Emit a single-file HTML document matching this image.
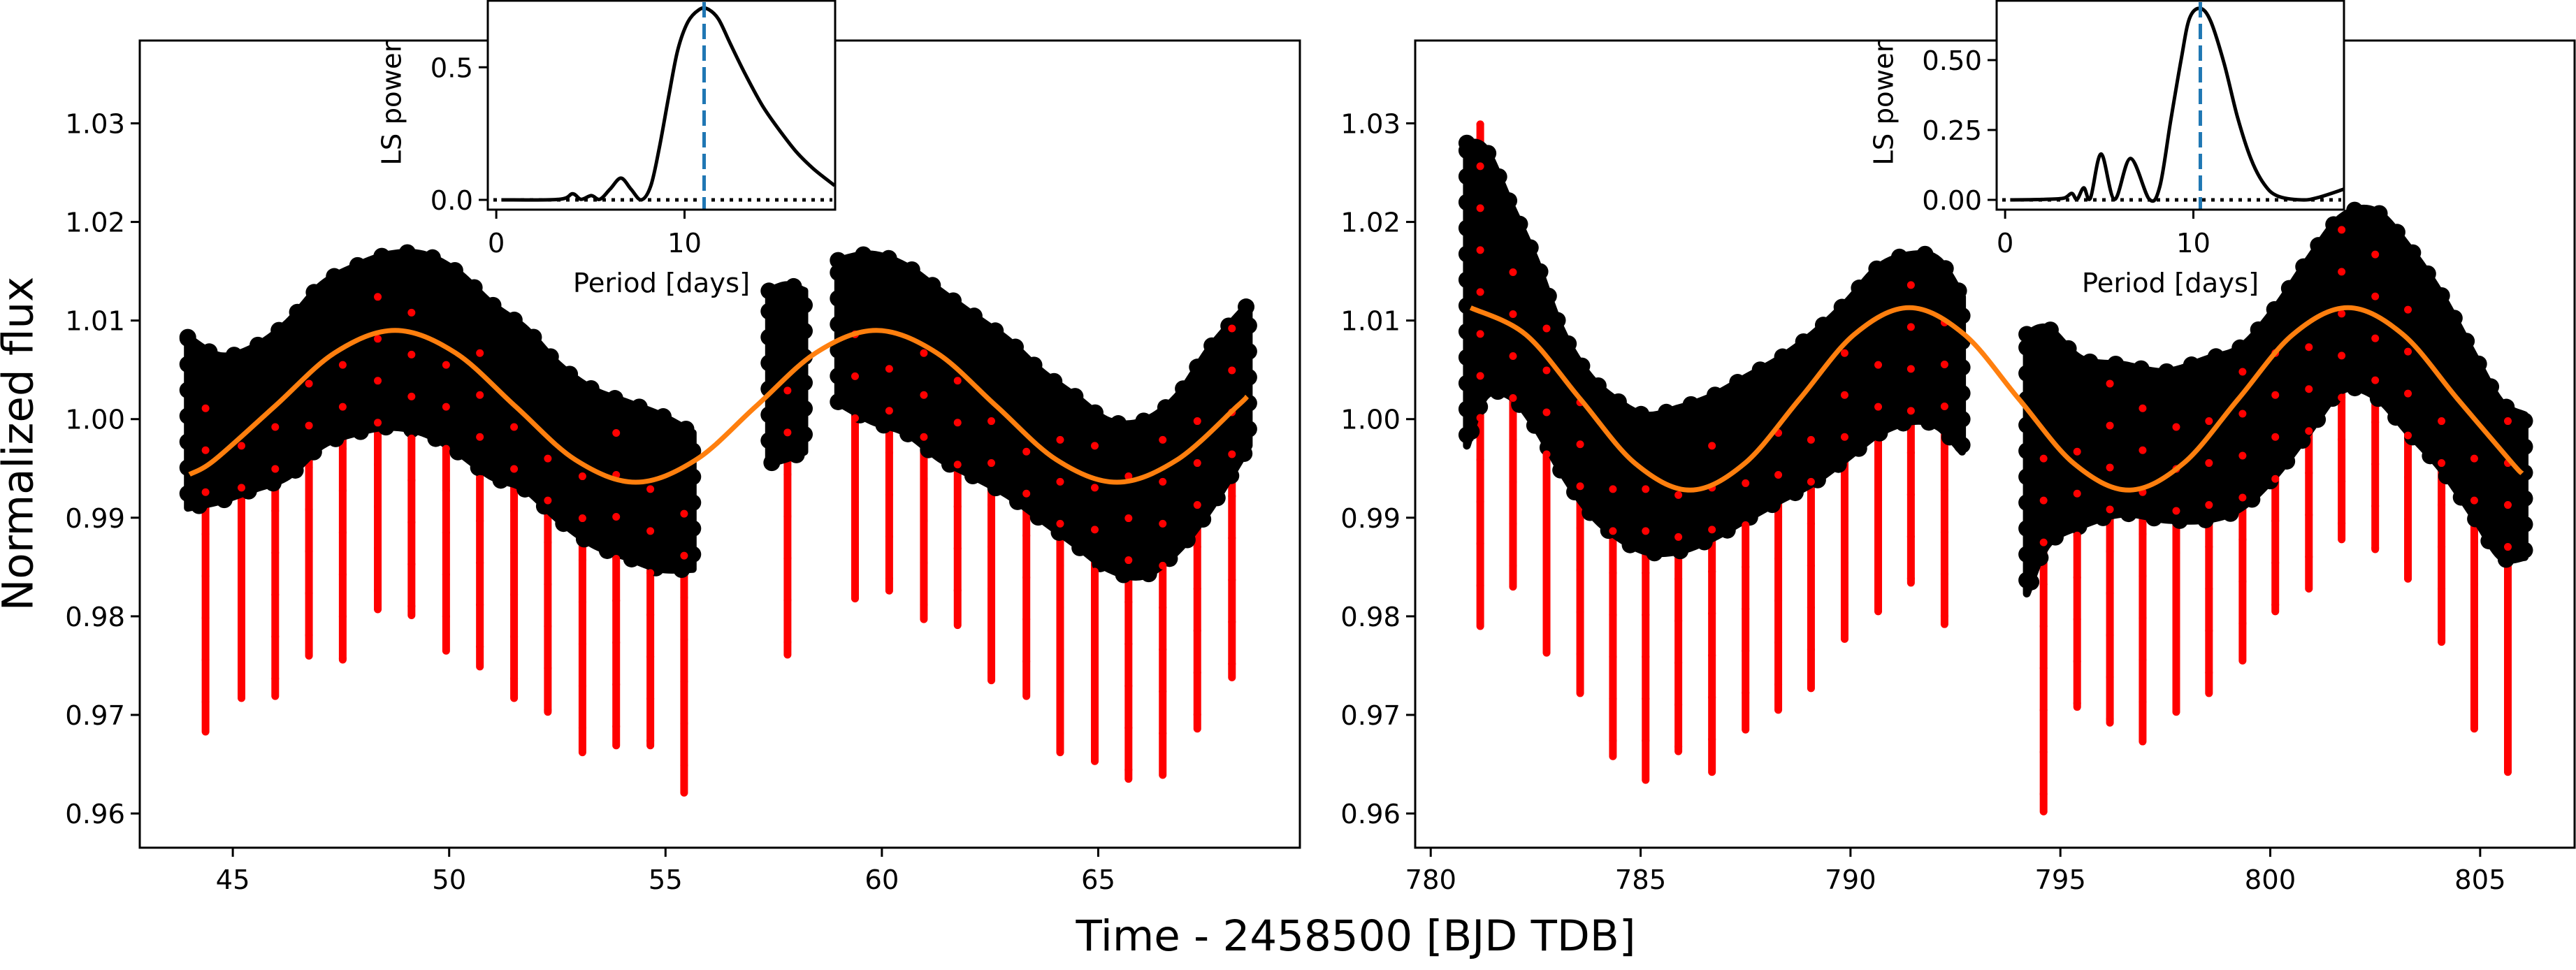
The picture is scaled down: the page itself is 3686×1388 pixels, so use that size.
<!DOCTYPE html>
<html><head><meta charset="utf-8">
<style>
html,body{margin:0;padding:0;background:#fff;}
svg{display:block;}
text{font-family:"DejaVu Sans","Liberation Sans",sans-serif;fill:#000;}
</style></head>
<body>
<svg id="fig" xmlns="http://www.w3.org/2000/svg" width="3686" height="1388" viewBox="0 0 3686 1388">
<rect x="0" y="0" width="3686" height="1388" fill="#fff"/>
<g id="left"></g>
<g id="right"></g>
<text x="26" y="635" font-size="61" text-anchor="middle" dominant-baseline="central" transform="rotate(-90 26 635)">Normalized flux</text>
<text x="1940" y="1360" font-size="61" text-anchor="middle">Time - 2458500 [BJD TDB]</text>
</svg>
<script>
// ---------- DATA ----------
const yTicks = [0.96,0.97,0.98,0.99,1.00,1.01,1.02,1.03];
const xTicksL = [45,50,55,60,65];
const xTicksR = [780,785,790,795,800,805];

// black flux cloud envelopes (time, upper, lower)
const cloudL1_t  = [43.96,44.71,45.49,46.27,47.05,47.84,48.62,49.40,50.19,50.97,51.75,52.53,53.32,54.10,54.88,55.63];
const cloudL1_hi = [1.0083,1.0064,1.0073,1.0098,1.0136,1.0155,1.0167,1.0167,1.0149,1.0117,1.0092,1.0055,1.0030,1.0017,1.0004,0.9986];
const cloudL1_lo = [0.9910,0.9917,0.9929,0.9942,0.9973,0.9986,0.9992,0.9986,0.9967,0.9942,0.9929,0.9898,0.9873,0.9860,0.9848,0.9848];
const cloudL2_t  = [57.39,57.80,58.21];
const cloudL2_hi = [1.0130,1.0136,1.0130];
const cloudL2_lo = [0.9955,0.9960,0.9967];
const cloudL3_t  = [58.99,59.77,60.56,61.34,62.12,62.91,63.69,64.47,65.25,66.04,66.82,67.60,68.48];
const cloudL3_hi = [1.0161,1.0167,1.0155,1.0130,1.0105,1.0080,1.0048,1.0023,0.9998,0.9998,1.0023,1.0073,1.0117];
const cloudL3_lo = [1.0017,0.9998,0.9986,0.9960,0.9942,0.9923,0.9898,0.9873,0.9848,0.9841,0.9866,0.9910,0.9973];
const cloudR1_t  = [780.86,781.30,781.90,782.50,783.10,783.70,784.30,785.10,785.90,786.70,787.50,788.30,789.10,789.90,790.70,791.50,792.10,792.66];
const cloudR1_hi = [1.0280,1.0274,1.0218,1.0161,1.0092,1.0048,1.0023,1.0004,1.0011,1.0023,1.0042,1.0061,1.0086,1.0118,1.0155,1.0167,1.0161,1.0124];
const cloudR1_lo = [0.9973,1.0023,1.0023,0.9992,0.9948,0.9910,0.9885,0.9866,0.9866,0.9879,0.9898,0.9917,0.9935,0.9960,0.9986,0.9998,0.9992,0.9967];
const cloudR2_t  = [794.20,794.70,795.50,796.50,797.50,798.50,799.30,800.10,800.90,801.70,802.50,803.30,804.10,804.90,805.50,806.06];
const cloudR2_hi = [1.0086,1.0092,1.0061,1.0055,1.0048,1.0061,1.0073,1.0111,1.0161,1.0205,1.0211,1.0174,1.0124,1.0061,1.0017,1.0004];
const cloudR2_lo = [0.9823,0.9873,0.9892,0.9904,0.9898,0.9898,0.9910,0.9942,0.9986,1.0029,1.0023,0.9986,0.9948,0.9898,0.9860,0.9860];

// red in-transit points: transit time, top and bottom flux
const transitL_t   = [44.37,45.20,45.98,46.76,47.54,48.35,49.13,49.93,50.71,51.50,52.28,53.08,53.86,54.65,55.43,57.82,59.38,60.17,60.97,61.75,62.53,63.34,64.12,64.92,65.70,66.49,67.29,68.09];
const transitL_top = [1.0011,0.9973,0.9992,1.0036,1.0055,1.0124,1.0108,1.0055,1.0067,0.9992,0.9960,0.9942,0.9986,0.9929,0.9904,1.0029,1.0086,1.0051,1.0067,1.0039,0.9998,0.9967,0.9979,0.9973,0.9942,0.9979,0.9998,1.0092];
const transitL_bot = [0.9683,0.9717,0.9719,0.9760,0.9756,0.9807,0.9801,0.9765,0.9749,0.9717,0.9703,0.9662,0.9669,0.9669,0.9621,0.9761,0.9818,0.9826,0.9797,0.9791,0.9735,0.9719,0.9662,0.9653,0.9635,0.9639,0.9686,0.9738];
const transitR_t   = [781.18,781.96,782.76,783.56,784.34,785.12,785.90,786.70,787.50,788.28,789.06,789.86,790.66,791.44,792.24,794.60,795.40,796.18,796.96,797.76,798.54,799.34,800.12,800.92,801.70,802.50,803.28,804.08,804.86,805.66];
const transitR_top = [1.0299,1.0149,1.0092,1.0017,0.9929,0.9929,0.9923,0.9973,0.9935,0.9986,0.9979,1.0067,1.0055,1.0136,1.0098,0.9960,0.9967,1.0036,1.0011,0.9992,0.9998,1.0048,1.0067,1.0073,1.0192,1.0167,1.0111,0.9998,0.9960,0.9998];
const transitR_bot = [0.9790,0.9830,0.9763,0.9722,0.9658,0.9634,0.9663,0.9642,0.9685,0.9705,0.9727,0.9777,0.9805,0.9834,0.9792,0.9602,0.9708,0.9692,0.9673,0.9703,0.9722,0.9755,0.9805,0.9828,0.9878,0.9868,0.9838,0.9774,0.9686,0.9642];

// orange rotation model curve nodes
const modelL_t = [44.00,44.58,45.97,47.36,48.75,50.14,51.53,52.92,54.31,55.70,57.09,58.48,59.87,61.26,62.65,64.04,65.43,66.82,68.21,68.44];
const modelL_v = [0.99439,0.99586,1.0013,1.00674,1.009,1.00674,1.0013,0.99586,0.9936,0.99586,1.0013,1.00674,1.009,1.00674,1.0013,0.99586,0.9936,0.99586,1.0013,1.00229];
const modelR_t = [780.95,782.26,783.56,784.87,786.18,787.48,788.79,790.09,791.40,792.71,794.01,795.32,796.63,797.93,799.24,800.54,801.85,803.16,804.46,805.77,806.00];
const modelR_v = [1.0113,1.00859,1.00205,0.99551,0.9928,0.99551,1.00205,1.00859,1.0113,1.00859,1.00205,0.99551,0.9928,0.99551,1.00205,1.00859,1.0113,1.00859,1.00205,0.99551,0.9945];

// periodograms
const lsL_period = [0.27,3.33,4.05,4.50,5.05,5.50,6.04,6.62,7.16,7.70,8.20,8.65,9.19,9.64,10.18,10.77,11.22,11.80,12.43,13.24,14.14,15.05,15.95,16.85,17.97];
const lsL_power  = [0,0.002,0.023,0.002,0.016,0.002,0.04,0.082,0.04,0.0,0.051,0.192,0.402,0.565,0.671,0.717,0.720,0.682,0.589,0.472,0.355,0.262,0.180,0.117,0.054];
const lsL_best = 11.04;
const lsR_period = [0.27,2.12,3.11,3.54,3.82,4.18,4.53,5.10,5.81,6.66,7.66,8.22,8.79,9.36,9.79,10.36,10.92,11.63,12.34,13.05,13.76,14.47,15.75,16.60,17.98];
const lsR_power  = [0,0.002,0.006,0.023,0.002,0.043,0.006,0.164,0.002,0.148,0.002,0.048,0.281,0.506,0.648,0.685,0.639,0.489,0.297,0.148,0.056,0.014,0,0.008,0.038];
const lsR_best = 10.37;
const insetTicksX = [0,10];
const insetTicksYL = ["0.0","0.5"];
const insetTicksYR = ["0.00","0.25","0.50"];

// ---------- DRAWING ----------
const NS = "http://www.w3.org/2000/svg";
function mk(tag, attrs, parent){ const e=document.createElementNS(NS,tag); for(const k in attrs) e.setAttribute(k,attrs[k]); parent.appendChild(e); return e; }
function lin(d0,d1,r0,r1){ return v => r0+(v-d0)*(r1-r0)/(d1-d0); }
function smooth(xs, ys){
  let d = "M"+xs[0].toFixed(1)+","+ys[0].toFixed(1);
  for(let i=0;i<xs.length-1;i++){
    const x0=xs[Math.max(i-1,0)], y0=ys[Math.max(i-1,0)];
    const x1=xs[i], y1=ys[i], x2=xs[i+1], y2=ys[i+1];
    const x3=xs[Math.min(i+2,xs.length-1)], y3=ys[Math.min(i+2,xs.length-1)];
    const c1x=x1+(x2-x0)/6, c1y=y1+(y2-y0)/6, c2x=x2-(x3-x1)/6, c2y=y2-(y3-y1)/6;
    d += " C"+c1x.toFixed(1)+","+c1y.toFixed(1)+" "+c2x.toFixed(1)+","+c2y.toFixed(1)+" "+x2.toFixed(1)+","+y2.toFixed(1);
  }
  return d;
}

function drawPanel(g, cfg){
  const X = lin(cfg.xd[0],cfg.xd[1],cfg.x0,cfg.x1);
  const Y = lin(0.95653,1.0384,1213,58);
  const reds = mk("g",{},g);
  
  
  cfg.tt.forEach((t,i)=>{
    const l = mk("line",{x1:X(t),x2:X(t),y1:Y(cfg.ttop[i]),y2:Y(cfg.tbot[i]),stroke:"#ff0000","stroke-width":11,"stroke-linecap":"round"},reds);
    
    
  });
  cfg.clouds.forEach(c=>{
    const xs=c[0].map(X), hi=c[1].map(Y), lo=c[2].map(Y);
    let d = smooth(xs,hi);
    const rx=xs.slice().reverse(), ry=lo.slice().reverse();
    d += " L"+rx[0].toFixed(1)+","+ry[0].toFixed(1)+smooth(rx,ry).replace(/^M[^C]*/," ")+" Z";
    const p = mk("path",{d:d,fill:"#000",stroke:"#000","stroke-width":11,"stroke-linejoin":"round"},g);
    
    
    const fz = mk("path",{d:d,fill:"none",stroke:"#000","stroke-width":24,"stroke-linecap":"round","stroke-dasharray":"0 37"},g);
    
    
  });
  cfg.tt.forEach((t,i)=>{
    const l = mk("line",{x1:X(t),x2:X(t),y1:Y(cfg.ttop[i]),y2:Y(cfg.tbot[i]),stroke:"#ff0000","stroke-width":11,"stroke-linecap":"round","stroke-dasharray":"0 60"},g);
    
    
  });
  const m = mk("path",{d:smooth(cfg.mt.map(X),cfg.mv.map(Y)),fill:"none",stroke:"#ff7f0e","stroke-width":7},g);
  
  
  const f = mk("rect",{x:cfg.x0,y:58,width:cfg.x1-cfg.x0,height:1213-58,fill:"none",stroke:"#000","stroke-width":3},g);
  
  
  yTicks.forEach(v=>{
    const y=Y(v);
    const t=mk("line",{x1:cfg.x0-13,x2:cfg.x0,y1:y,y2:y,stroke:"#000","stroke-width":3},g);
    
    
    const tx=mk("text",{x:cfg.x0-21,y:y+14,"font-size":38.5,"text-anchor":"end"},g);
    tx.textContent=v.toFixed(2);
    
    
  });
  cfg.xt.forEach(v=>{
    const x=X(v);
    const t=mk("line",{x1:x,x2:x,y1:1213,y2:1226,stroke:"#000","stroke-width":3},g);
    
    
    const tx=mk("text",{x:x,y:1272,"font-size":38.5,"text-anchor":"middle"},g);
    tx.textContent=String(v);
    
    
  });
  const ig = mk("g",{},g);
  
  
  const ib = cfg.inset;
  const IX = lin(-0.45,18.0,ib.x0,ib.x1);
  const IY = lin(0,1,ib.zeroY,ib.zeroY-ib.unit);
  const bg=mk("rect",{x:ib.x0,y:1,width:ib.x1-ib.x0,height:299,fill:"#fff"},ig);
  
  
  const cp = mk("clipPath",{id:"clip"+cfg.id},ig);
  mk("rect",{x:ib.x0,y:1,width:ib.x1-ib.x0,height:299},cp);
  const zl=mk("line",{x1:ib.x0+8,x2:ib.x1-4,y1:IY(0),y2:IY(0),stroke:"#000","stroke-width":5,"stroke-dasharray":"5 8"},ig);
  
  
  const pl=mk("path",{d:smooth(cfg.lsp.map(IX),cfg.lsw.map(IY)),fill:"none",stroke:"#000","stroke-width":5,"clip-path":"url(#clip"+cfg.id+")"},ig);
  
  
  const bl=mk("line",{x1:IX(cfg.best),x2:IX(cfg.best),y1:3,y2:300,stroke:"#1f77b4","stroke-width":5,"stroke-dasharray":"22 9"},ig);
  
  
  const fr=mk("rect",{x:ib.x0,y:1,width:ib.x1-ib.x0,height:299,fill:"none",stroke:"#000","stroke-width":3},ig);
  
  
  insetTicksX.forEach(v=>{
    const x=IX(v);
    const t=mk("line",{x1:x,x2:x,y1:300,y2:313,stroke:"#000","stroke-width":3},ig);
    
    
    const tx=mk("text",{x:x,y:361,"font-size":38.5,"text-anchor":"middle"},ig);
    tx.textContent=String(v);
    
    
  });
  cfg.iyt.forEach(s=>{
    const y=IY(parseFloat(s));
    const t=mk("line",{x1:ib.x0-13,x2:ib.x0,y1:y,y2:y,stroke:"#000","stroke-width":3},ig);
    
    
    const tx=mk("text",{x:ib.x0-21,y:y+14,"font-size":38.5,"text-anchor":"end"},ig);
    tx.textContent=s;
    
    
  });
  const xl=mk("text",{x:(ib.x0+ib.x1)/2,y:418,"font-size":38.5,"text-anchor":"middle"},ig);
  xl.textContent="Period [days]";
  
  
  const yl=mk("text",{x:ib.lsx,y:148,"font-size":38.5,"text-anchor":"middle","dominant-baseline":"central",transform:"rotate(-90 "+ib.lsx+" 148)"},ig);
  yl.textContent="LS power";
  
  
}

drawPanel(document.getElementById("left"),{
  id:"L", xd:[42.85,69.66], x0:200, x1:1860, xt:xTicksL,
  clouds:[[cloudL1_t,cloudL1_hi,cloudL1_lo],[cloudL2_t,cloudL2_hi,cloudL2_lo],[cloudL3_t,cloudL3_hi,cloudL3_lo]],
  tt:transitL_t, ttop:transitL_top, tbot:transitL_bot, mt:modelL_t, mv:modelL_v,
  lsp:lsL_period, lsw:lsL_power, best:lsL_best, iyt:insetTicksYL,
  inset:{x0:698,x1:1195,zeroY:286,unit:379.5,lsx:561}
});
drawPanel(document.getElementById("right"),{
  id:"R", xd:[779.63,807.25], x0:2025, x1:3684, xt:xTicksR,
  clouds:[[cloudR1_t,cloudR1_hi,cloudR1_lo],[cloudR2_t,cloudR2_hi,cloudR2_lo]],
  tt:transitR_t, ttop:transitR_top, tbot:transitR_bot, mt:modelR_t, mv:modelR_v,
  lsp:lsR_period, lsw:lsR_power, best:lsR_best, iyt:insetTicksYR,
  inset:{x0:2857,x1:3354,zeroY:286,unit:400,lsx:2696}
});
</script>
</body></html>
